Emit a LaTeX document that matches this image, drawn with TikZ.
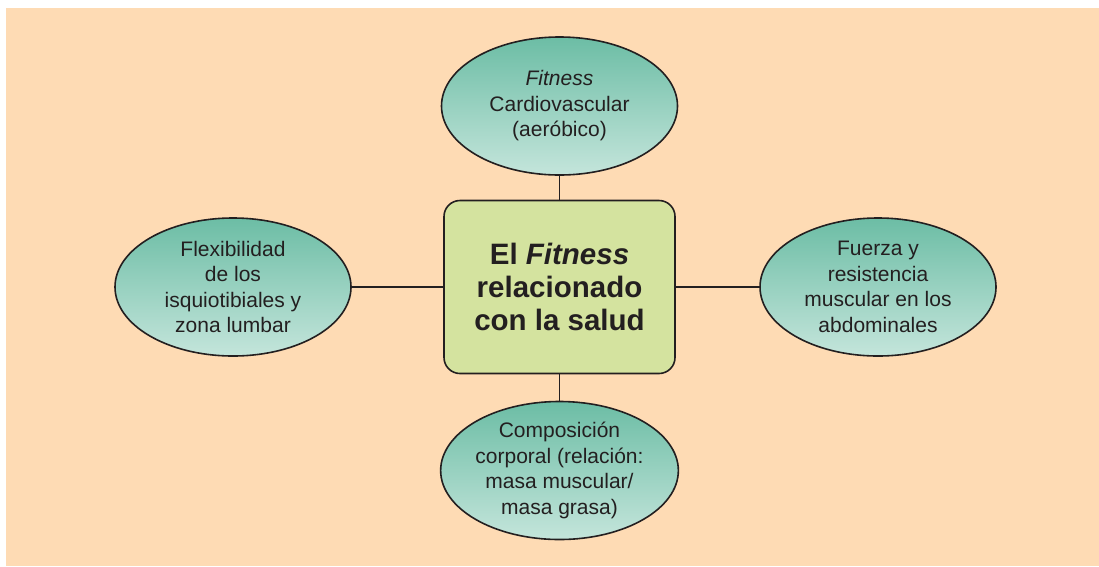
\documentclass[tikz,border=0pt]{standalone}
\usepackage{fontspec}
\setmainfont{Liberation Sans}
\usetikzlibrary{shapes.geometric}
\definecolor{peach}{HTML}{FEDBB4}
\definecolor{boxgreen}{HTML}{D4E39F}
\definecolor{tealtop}{HTML}{6CBDA5}
\definecolor{tealbot}{HTML}{C4E5DB}
\definecolor{ink}{HTML}{231F20}
\tikzset{
  bubble/.style={ellipse, draw=ink, line width=1.6pt, top color=tealtop, bottom color=tealbot,
    inner sep=0pt, minimum width=236pt, minimum height=138pt, align=center, text=ink,
    font=\fontsize{21}{25.5}\selectfont},
  centerbox/.style={rectangle, rounded corners=16pt, draw=ink, line width=1.6pt, fill=boxgreen,
    inner sep=0pt, minimum width=231pt, minimum height=173pt, align=center, text=ink,
    font=\fontsize{29.5}{33}\selectfont\bfseries},
  link/.style={draw=ink, line width=1.6pt}
}
\begin{document}
\begin{tikzpicture}[x=1pt,y=-1pt]
\useasboundingbox (0,0) rectangle (1099,566);
\fill[white] (0,0) rectangle (1099,566);
\fill[peach] (6,8) rectangle (1099,566);
\node[centerbox] (box) at (559.5,287) {El \textit{Fitness}\\relacionado\\con la salud};
\node[bubble] (top) at (559.5,106) {\textit{Fitness}\\Cardiovascular\\(aeróbico)};
\node[bubble] (left) at (233,287) {Flexibilidad\\de los\\isquiotibiales y\\zona lumbar};
\node[bubble] (right) at (878,287) {Fuerza y\\resistencia\\muscular en los\\abdominales};
\node[bubble] (bottom) at (559.5,470.5) {Composición\\corporal (relación:\\masa muscular/\\masa grasa)};
\draw[link] (top.south) -- (box.north);
\draw[link] (box.south) -- (bottom.north);
\draw[link] (left.east) -- (box.west);
\draw[link] (box.east) -- (right.west);
\end{tikzpicture}
\end{document}
